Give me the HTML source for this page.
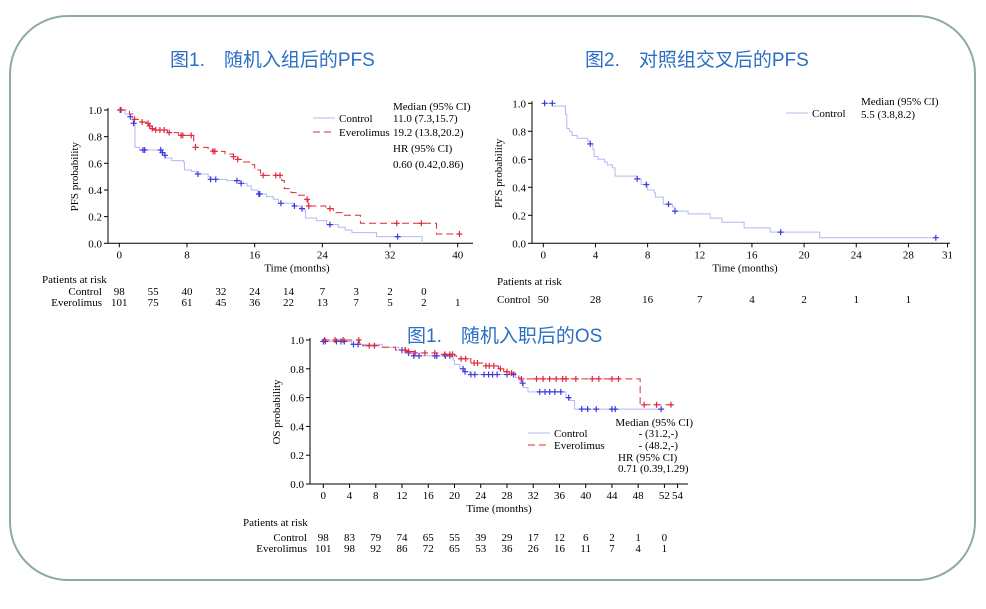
<!DOCTYPE html>
<html><head><meta charset="utf-8">
<style>
body{margin:0;background:#fff;}
svg{display:block;font-family:"Liberation Serif",serif;}
.t{font-family:"Liberation Sans","Noto Sans CJK SC",sans-serif;fill:#2a6fc4;font-size:19px;}
</style></head><body>
<svg id="s" width="986" height="609" viewBox="0 0 986 609" xmlns="http://www.w3.org/2000/svg">
<rect x="10" y="16" width="965" height="564" rx="58" fill="#fff" stroke="#8fa9a9" stroke-width="2"/>
<text class="t" x="170" y="66">图1.　随机入组后的PFS</text>
<text class="t" x="585" y="66">图2.　对照组交叉后的PFS</text>
<g id="g1"></g>
<g id="g2"></g>
<g id="g3"></g>
<text class="t" x="407" y="342">图1.　随机入职后的OS</text>
</svg>
<script>
// Chart 1 data
const c1CtrlT=[0,0.67,1.26,1.6,1.85,2.4,5.0,5.3,5.5,6.2,7.6,7.7,8.55,9.1,10.5,10.7,12.7,14.3,15.1,15.6,16.4,17.4,18.2,18.8,20.6,21.4,21.8,22.0,23.3,24.5,25.9,26.7,27.5,30.4,35.8];
const c1CtrlS=[1.0,0.97,0.95,0.90,0.72,0.70,0.68,0.66,0.64,0.62,0.61,0.55,0.54,0.52,0.50,0.48,0.47,0.45,0.43,0.40,0.37,0.35,0.33,0.30,0.28,0.26,0.25,0.19,0.17,0.14,0.12,0.10,0.08,0.05,0.0];
const c1CtrlEnd=35.8;
const c1CtrlCens=[0.2,1.3,1.7,2.8,3.0,4.9,5.1,5.4,9.3,10.8,11.4,13.9,14.4,16.5,16.6,19.1,20.7,21.6,24.9,32.9];
const c1EvT=[0,1.2,1.6,1.8,2.6,3.2,3.5,3.9,4.1,5.7,7.0,8.8,9.0,10.5,11.0,12.5,13.5,14.0,14.7,15.6,16.0,16.7,19.2,19.5,20.3,21.0,22.0,22.3,24.4,25.3,26.5,28.5,37.5];
const c1EvS=[1.0,0.97,0.95,0.93,0.91,0.90,0.88,0.86,0.85,0.83,0.81,0.76,0.72,0.71,0.69,0.67,0.65,0.63,0.61,0.59,0.55,0.51,0.47,0.41,0.38,0.36,0.33,0.28,0.26,0.23,0.21,0.15,0.07];
const c1EvEnd=40.3;
const c1EvCens=[0.1,1.8,2.7,3.4,3.6,3.9,4.3,4.8,5.3,5.9,7.3,7.5,8.5,9.0,11.1,11.3,13.5,14.0,17.0,18.5,19.0,22.2,22.4,24.9,32.8,35.7,40.2];
const c1Ticks=[0,8,16,24,32,40];
const c1RiskCtrl=[98,55,40,32,24,14,7,3,2,0];
const c1RiskEv=[101,75,61,45,36,22,13,7,5,2,1];
// Chart 2 data
const c2T=[0,0.7,1.7,1.8,2.0,2.2,2.6,3.4,3.6,3.8,3.9,4.2,4.7,4.9,5.3,5.5,7.2,7.5,8.0,8.5,8.6,9.2,9.9,10.1,11.1,12.8,13.7,15.4,17.4,21.2];
const c2S=[1.0,0.98,0.92,0.82,0.80,0.77,0.75,0.73,0.71,0.67,0.62,0.60,0.58,0.56,0.54,0.48,0.46,0.42,0.38,0.36,0.33,0.28,0.26,0.23,0.21,0.18,0.15,0.11,0.08,0.04];
const c2End=30.3;
const c2Cens=[0.1,0.69,3.6,7.2,7.9,9.6,10.1,18.2,30.1];
const c2Ticks=[0,4,8,12,16,20,24,28,31];
const c2Risk=[50,28,16,7,4,2,1,1];
// Chart 3 data
const c3CtrlT=[0,4.3,9.0,11.5,12.9,13.7,19.6,19.8,20.0,20.8,21.5,22.3,29.3,30.0,30.5,31.2,37.0,37.6,38.3];
const c3CtrlS=[0.99,0.97,0.95,0.93,0.91,0.89,0.88,0.86,0.83,0.80,0.78,0.76,0.74,0.70,0.67,0.64,0.60,0.58,0.52];
const c3CtrlEnd=51.5;
const c3CtrlCens=[0,0.3,2,2.7,3.2,4.6,5.3,12,12.5,13,13.8,14.6,17,17.3,18.6,19.3,21.3,21.6,22.5,23.1,24.5,25.2,25.8,26.5,28,29,30.4,33,33.8,34.5,35.3,36.2,37.4,39.4,40.3,41.6,44,44.5,51.5];
const c3EvT=[0,5.5,6.0,9.0,11.0,13.0,14.0,17.5,20.0,20.3,22.5,24.7,26.7,27.5,28.7,29.3,29.8,48.3];
const c3EvS=[1.0,0.98,0.96,0.95,0.93,0.92,0.91,0.90,0.89,0.87,0.84,0.82,0.80,0.78,0.77,0.75,0.73,0.55];
const c3EvEnd=53.3;
const c3EvCens=[0.2,1.8,3,5.4,7,7.8,12.5,13,14,15.5,17,18.5,19.3,19.7,21,21.7,23,23.5,24.8,25.3,26,27,28,28.7,30.2,32.5,33.5,34.5,35.5,36.5,37,38.5,41,42,44,45,48.9,50.8,53];
const c3Ticks=[0,4,8,12,16,20,24,28,32,36,40,44,48,52,54];
const c3RiskTimes=[0,4,8,12,16,20,24,28,32,36,40,44,48,52];
const c3RiskCtrl=[98,83,79,74,65,55,39,29,17,12,6,2,1,0];
const c3RiskEv=[101,98,92,86,72,65,53,36,26,16,11,7,4,1];
const yTicks=[0,0.2,0.4,0.6,0.8,1.0];

const NS="http://www.w3.org/2000/svg";
function el(g,tag,attrs,txt){const e=document.createElementNS(NS,tag);for(const k in attrs)e.setAttribute(k,attrs[k]);if(txt!==undefined)e.textContent=txt;g.appendChild(e);return e;}
function stepAt(T,S,t){let v=S[0];for(let i=0;i<T.length;i++){if(T[i]<=t)v=S[i];}return v;}
const BLUE_L="#b4b8f4",BLUE_D="#3a3ae0",RED="#e0283a";

function chart(g,o){
  const X=t=>o.x0+t*o.kx, Y=v=>o.y0-v*(o.y0-o.y1);
  const ax=el(g,'path',{d:`M${o.ax} ${Y(1)-2}V${o.y0}H${o.axEnd}`,stroke:'#000',fill:'none','stroke-width':1});
  
  yTicks.forEach(v=>{
    const tk=el(g,'line',{x1:o.ax-4,x2:o.ax,y1:Y(v),y2:Y(v),stroke:'#000'});
    
    const l=el(g,'text',{x:o.ax-6,y:Y(v)+4,'text-anchor':'end','font-size':11},v.toFixed(1));
    
  });
  o.ticks.forEach(t=>{
    const tk=el(g,'line',{x1:X(t),x2:X(t),y1:o.y0,y2:o.y0+4,stroke:'#000'});
    
    const l=el(g,'text',{x:X(t),y:o.y0+15,'text-anchor':'middle','font-size':11},t);
    
  });
  const xt=el(g,'text',{x:o.xtX,y:o.y0+28,'text-anchor':'middle','font-size':11},'Time (months)');
  
  const yc=(Y(0)+Y(1))/2;
  const yt=el(g,'text',{x:o.ax-30,y:yc,'text-anchor':'middle','font-size':11,transform:`rotate(-90 ${o.ax-30} ${yc})`},o.ylab);
  
  o.series.forEach(s=>{
    let d=`M${X(s.T[0])} ${Y(s.S[0])}`;
    for(let i=1;i<s.T.length;i++){d+=`H${X(s.T[i])}V${Y(s.S[i])}`;}
    d+=`H${X(s.end)}`;
    const p=el(g,'path',{d,fill:'none',stroke:s.col,'stroke-width':1,'stroke-dasharray':s.dash||'none'});
    
    s.cens.forEach(t=>{
      const cx=X(t),cy=Y(stepAt(s.T,s.S,t));
      const c=el(g,'path',{d:`M${cx-3} ${cy}H${cx+3}M${cx} ${cy-3}V${cy+3}`,stroke:s.mark,'stroke-width':1.2});
      
    });
  });
  const pr=el(g,'text',{x:o.riskX,y:o.riskY,'font-size':11},'Patients at risk');
  
  o.risk.forEach(r=>{
    const rl=el(g,'text',{x:o.rowLabX,y:r.y,'text-anchor':o.rowAnchor||'end','font-size':11},r.label);
    
    r.vals.forEach((v,i)=>{
      const tx=el(g,'text',{x:X(r.times?r.times[i]:i*o.riskStep),y:r.y,'text-anchor':'middle','font-size':11},v);
      
    });
  });
  o.legend.forEach(L=>{
    if(L.col){const ll=el(g,'line',{x1:L.x,x2:L.x+22,y1:L.y-4,y2:L.y-4,stroke:L.col,'stroke-dasharray':L.dash||'none'});
      }
    const lt=el(g,'text',{x:L.col?L.x+26:L.x,y:L.y,'font-size':11,'text-anchor':L.anchor||'start'},L.text);
    
  });
}
chart(document.getElementById('g1'),{x0:119.3,kx:8.46,y0:243.3,y1:110,ax:108,axEnd:473,ticks:c1Ticks,xtX:297,ylab:'PFS probability',
  series:[{name:'control',T:c1CtrlT,S:c1CtrlS,end:c1CtrlEnd,cens:c1CtrlCens,col:BLUE_L,mark:BLUE_D},
          {name:'everolimus',T:c1EvT,S:c1EvS,end:c1EvEnd,cens:c1EvCens,col:RED,mark:RED,dash:'7 4'}],
  riskX:42,riskY:283,rowLabX:102,riskStep:4,
  risk:[{label:'Control',y:295,vals:c1RiskCtrl},{label:'Everolimus',y:306,vals:c1RiskEv}],
  legend:[{x:313,y:122,col:BLUE_L,text:'Control'},{x:313,y:136,col:RED,dash:'7 4',text:'Everolimus'},
    {x:393,y:110,text:'Median (95% CI)'},{x:393,y:122,text:'11.0 (7.3,15.7)'},{x:393,y:136,text:'19.2 (13.8,20.2)'},
    {x:393,y:152,text:'HR (95% CI)'},{x:393,y:168,text:'0.60 (0.42,0.86)'}]});
chart(document.getElementById('g2'),{x0:543.3,kx:13.04,y0:243.3,y1:103.3,ax:532,axEnd:950,ticks:c2Ticks,xtX:745,ylab:'PFS probability',
  series:[{name:'control',T:c2T,S:c2S,end:c2End,cens:c2Cens,col:BLUE_L,mark:BLUE_D}],
  riskX:497,riskY:285,rowLabX:497,rowAnchor:'start',riskStep:4,
  risk:[{label:'Control',y:303,vals:c2Risk}],
  legend:[{x:786,y:117,col:BLUE_L,text:'Control'},{x:861,y:105,text:'Median (95% CI)'},{x:861,y:118,text:'5.5 (3.8,8.2)'}]});
chart(document.getElementById('g3'),{x0:323.3,kx:6.56,y0:484,y1:340,ax:310,axEnd:688,ticks:c3Ticks,xtX:499,ylab:'OS probability',
  series:[{name:'control',T:c3CtrlT,S:c3CtrlS,end:c3CtrlEnd,cens:c3CtrlCens,col:BLUE_L,mark:BLUE_D},
          {name:'everolimus',T:c3EvT,S:c3EvS,end:c3EvEnd,cens:c3EvCens,col:RED,mark:RED,dash:'7 4'}],
  riskX:243,riskY:526,rowLabX:307,riskStep:4,
  risk:[{label:'Control',y:541,vals:c3RiskCtrl,times:c3RiskTimes},{label:'Everolimus',y:552,vals:c3RiskEv,times:c3RiskTimes}],
  legend:[{x:528,y:437,col:BLUE_L,text:'Control'},{x:528,y:449,col:RED,dash:'7 4',text:'Everolimus'},
    {x:693,y:426,anchor:'end',text:'Median (95% CI)'},{x:678,y:437,anchor:'end',text:'- (31.2,-)'},{x:678,y:449,anchor:'end',text:'- (48.2,-)'},
    {x:618,y:461,text:'HR (95% CI)'},{x:618,y:472,text:'0.71 (0.39,1.29)'}]});
</script>
</body></html>
